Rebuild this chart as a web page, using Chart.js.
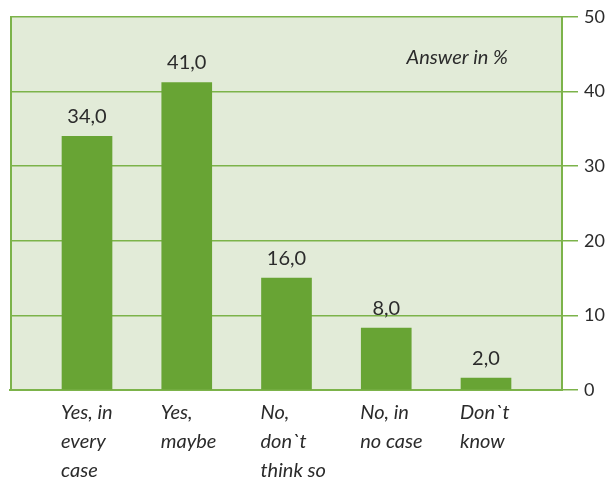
<!DOCTYPE html>
<html>
<head>
<meta charset="utf-8">
<script src="https://cdn.jsdelivr.net/npm/chart.js@4/dist/chart.umd.min.js"></script>
<style>
html,body{margin:0;padding:0;background:#fff;}
#wrap{width:613px;height:483px;position:relative;}
</style>
</head>
<body>
<div id="wrap"><canvas id="c" width="613" height="483"></canvas></div>
<script>
const categories = [
  ["Yes, in", "every", "case"],
  ["Yes,", "maybe"],
  ["No,", "don`t", "think so"],
  ["No, in", "no case"],
  ["Don`t", "know"]
];
const values = [34, 41.2, 15, 8.3, 1.6];
const valueLabels = ["34,0", "41,0", "16,0", "8,0", "2,0"];
const yTicks = [0, 10, 20, 30, 40, 50];
const noteText = "Answer in %";

const GREEN_LINE = '#7cb34a';
const BAR = '#68a434';
const BG = '#e2ebd8';
const FONT = 'Lato, "Open Sans", sans-serif';

const bgPlugin = {
  id: 'bg',
  beforeDraw(chart) {
    const {ctx, chartArea: a} = chart;
    ctx.save();
    ctx.fillStyle = BG;
    ctx.fillRect(a.left, a.top, a.right - a.left, a.bottom - a.top);
    ctx.strokeStyle = GREEN_LINE;
    ctx.lineWidth = 2;
    ctx.beginPath();
    ctx.moveTo(a.left + 1, a.top);
    ctx.lineTo(a.left + 1, a.bottom);
    ctx.stroke();
    ctx.restore();
  },
  afterDatasetsDraw(chart) {
    const {ctx} = chart;
    const meta = chart.getDatasetMeta(0);
    ctx.save();
    ctx.fillStyle = '#2b2b2b';
    ctx.font = '20px ' + FONT;
    ctx.textAlign = 'center';
    ctx.textBaseline = 'alphabetic';
    meta.data.forEach((bar, i) => {
      ctx.fillText(valueLabels[i], bar.x, bar.y - 13);
    });
    ctx.font = 'italic 20px ' + FONT;
    ctx.textAlign = 'right';
    ctx.textBaseline = 'middle';
    ctx.fillText(noteText, 508, 58);
    ctx.restore();
  }
};

new Chart(document.getElementById('c'), {
  type: 'bar',
  data: {
    datasets: [{
      data: values.map((v, i) => ({x: i, y: v})),
      backgroundColor: BAR,
      borderWidth: 0,
      barThickness: 50
    }]
  },
  options: {
    responsive: false,
    animation: false,
    devicePixelRatio: 1,
    layout: {padding: {left: 10, top: 15, right: 0, bottom: 0}},
    plugins: {legend: {display: false}, tooltip: {enabled: false}},
    scales: {
      x: {
        type: 'linear',
        offset: false,
        min: -0.772,
        max: 4.762,
        afterFit(s) { s.height = 93; },
        grid: {display: false, drawTicks: false, offset: false},
        border: {display: true, color: GREEN_LINE, width: 2},
        afterBuildTicks(s) { s.ticks = categories.map((c, i) => ({value: i})); },
        ticks: {
          autoSkip: false,
          maxRotation: 0,
          align: 'start',
          labelOffset: -26,
          padding: 8,
          color: '#2b2b2b',
          font: {family: FONT, size: 20, style: 'italic', lineHeight: 1.45},
          callback: (v) => categories[v] || ''
        }
      },
      y: {
        position: 'right',
        min: 0,
        max: 50,
        afterFit(s) { s.width = 51; },
        afterBuildTicks(s) { s.ticks = yTicks.map(v => ({value: v})); },
        grid: {color: GREEN_LINE, lineWidth: 1.5, tickLength: 16, drawTicks: true},
        border: {display: true, color: GREEN_LINE, width: 2},
        ticks: {
          padding: 6,
          color: '#2b2b2b',
          font: {family: FONT, size: 18}
        }
      }
    }
  },
  plugins: [bgPlugin]
});
</script>
</body>
</html>
